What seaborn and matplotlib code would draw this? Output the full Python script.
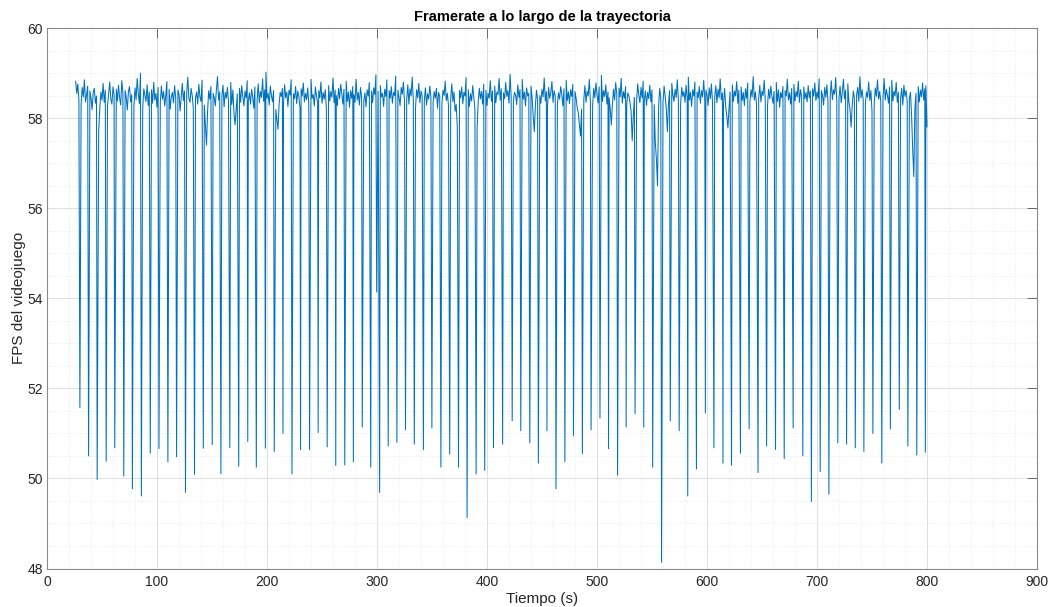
import numpy as np
import pandas as pd
import matplotlib
matplotlib.use("Agg")
import matplotlib.pyplot as plt
import seaborn as sns
from matplotlib.ticker import MultipleLocator, FixedLocator

# Frame rate sampled once per second, starting at t_start seconds
t_start = 26
fps_base = [
    58.82, 58.55, 58.76, 58.41, 58.63, 58.30, 58.68, 58.47, 58.85, 58.36,
    58.52, 58.71, 58.28, 58.60, 58.44, 58.19, 58.57, 58.66, 58.33, 58.49,
    57.95, 57.72, 58.21, 58.58, 58.40, 58.77, 58.35, 58.62, 58.48, 58.26,
    58.54, 58.80, 58.43, 58.31, 58.69, 58.51, 58.22, 58.64, 58.38, 58.73,
    58.45, 58.29, 58.83, 58.56, 58.34, 58.61, 58.47, 58.18, 58.59, 58.70,
    58.36, 58.52, 57.92, 58.25, 58.67, 58.41, 58.88, 58.53, 58.32, 59.00,
    58.44, 58.21, 58.65, 58.50, 58.37, 58.74, 58.28, 58.58, 58.46, 58.63,
    58.33, 58.79, 58.40, 58.55, 58.24, 58.68, 58.49, 58.35, 58.71, 58.42,
    58.59, 58.27, 58.51, 58.81, 58.38, 58.64, 58.20, 58.47, 58.57, 58.34,
    58.72, 58.45, 58.30, 58.62, 58.53, 58.16, 58.48, 58.77, 58.39, 58.60,
    58.26, 58.56, 58.91, 58.43, 58.35, 58.66, 58.50, 58.23, 58.69, 58.44,
    58.58, 58.31, 58.75, 58.47, 58.37, 58.84, 58.52, 58.29, 57.85, 57.40,
    58.15, 58.61, 58.42, 58.70, 58.34, 58.55, 58.46, 58.27, 58.63, 58.92,
    58.40, 58.58, 58.33, 58.49, 58.73, 58.25, 58.57, 58.44, 58.68, 58.36,
    58.52, 58.79, 58.30, 58.62, 58.10, 57.85, 58.20, 58.54, 58.41, 58.66,
    58.35, 58.72, 58.48, 58.27, 58.60, 58.45, 58.83, 58.38, 58.56, 58.31,
    58.64, 58.47, 58.22, 58.69, 58.53, 58.40, 58.76, 58.34, 58.59, 58.46,
    58.87, 58.37, 58.63, 59.02, 58.44, 58.55, 58.29, 58.71, 58.50, 58.36,
    58.61, 58.42, 58.19, 57.98, 57.75, 58.30, 58.57, 58.48, 58.66, 58.33,
    58.74, 58.45, 58.58, 58.26, 58.62, 58.51, 58.85, 58.39, 58.54, 58.43,
    58.70, 58.32, 58.60, 58.47, 58.23, 58.65, 58.49, 58.78, 58.36, 58.55,
    58.41, 58.67, 58.30, 58.59, 58.86, 58.44, 58.52, 58.27, 58.69, 58.48,
    58.35, 58.61, 58.45, 58.80, 58.33, 58.57, 58.42, 58.63, 58.21, 58.53,
    58.72, 58.38, 58.59, 58.46, 58.89, 58.34, 58.62, 58.50, 58.28, 58.66,
    58.43, 58.75, 58.55, 58.31, 58.64, 58.47, 58.82, 58.37, 58.58, 58.24,
    58.61, 58.44, 58.70, 58.52, 58.35, 58.86, 58.40, 58.57, 58.29, 58.68,
    58.46, 58.73, 58.38, 58.56, 58.25, 58.63, 58.49, 58.79, 58.41, 58.60,
    58.34, 58.67, 58.52, 58.96, 58.43, 58.59, 58.31, 58.72, 58.47, 58.55,
    58.26, 58.64, 58.48, 58.85, 58.37, 58.61, 58.44, 58.70, 58.33, 58.57,
    58.50, 58.93, 58.39, 58.62, 58.46, 58.28, 58.68, 58.53, 58.80, 58.36,
    58.58, 58.42, 58.74, 58.31, 58.65, 58.49, 58.91, 58.40, 58.56, 58.23,
    58.63, 58.45, 58.77, 58.34, 58.60, 58.51, 58.84, 58.38, 58.67, 58.29,
    58.54, 58.42, 58.71, 58.47, 58.87, 58.35, 58.59, 58.44, 58.66, 58.22,
    58.57, 58.48, 58.73, 58.33, 58.62, 58.50, 58.82, 58.39, 58.55, 58.27,
    58.64, 58.43, 58.76, 58.36, 58.58, 58.15, 58.30, 57.80, 58.24, 58.61,
    58.45, 58.69, 58.32, 58.57, 58.49, 58.90, 58.41, 58.63, 58.26, 58.54,
    58.38, 58.72, 58.47, 58.20, 58.05, 57.80, 58.35, 58.66, 58.43, 58.59,
    58.31, 58.75, 58.50, 58.62, 58.28, 58.55, 58.44, 58.83, 58.37, 58.60,
    58.46, 58.71, 58.34, 58.58, 58.52, 58.88, 58.40, 58.65, 58.25, 58.56,
    58.43, 58.79, 58.48, 58.61, 58.33, 58.97, 58.45, 58.69, 58.37, 58.57,
    58.52, 58.30, 58.74, 58.46, 58.63, 58.39, 58.86, 58.42, 58.58, 58.27,
    58.67, 58.49, 58.55, 58.34, 58.71, 58.45, 58.05, 57.70, 58.28, 58.62,
    58.41, 58.76, 58.50, 58.33, 58.64, 58.47, 58.89, 58.38, 58.59, 58.26,
    58.68, 58.44, 58.57, 58.81, 58.35, 58.61, 58.49, 58.73, 58.30, 58.56,
    58.42, 58.70, 58.53, 58.27, 58.65, 58.46, 58.84, 58.39, 58.58, 58.32,
    58.63, 58.48, 58.75, 58.36, 58.59, 58.44, 58.23, 58.12, 57.85, 57.60,
    58.20, 58.57, 58.41, 58.72, 58.35, 58.60, 58.49, 58.86, 58.38, 58.55,
    58.27, 58.66, 58.45, 58.78, 58.52, 58.34, 58.69, 58.43, 58.95, 58.37,
    58.61, 58.48, 58.74, 58.31, 58.58, 58.45, 58.22, 57.85, 58.30, 58.64,
    58.40, 58.79, 58.53, 58.36, 58.67, 58.47, 58.88, 58.33, 58.59, 58.44,
    58.70, 58.29, 58.56, 58.49, 58.35, 58.15, 57.50, 58.05, 58.46, 58.63,
    58.38, 58.76, 58.51, 58.34, 58.68, 58.45, 58.82, 58.40, 58.60, 58.28,
    58.57, 58.43, 58.73, 58.36, 58.62, 58.48, 58.30, 57.45, 57.10, 56.50,
    58.25, 58.66, 58.44, 58.58, 58.35, 58.71, 58.47, 58.20, 57.70, 58.33,
    58.61, 58.42, 58.77, 58.50, 58.37, 58.64, 58.46, 58.85, 58.39, 58.56,
    58.30, 58.68, 58.48, 58.59, 58.35, 58.73, 58.44, 58.91, 58.40, 58.57,
    58.26, 58.63, 58.49, 58.80, 58.37, 58.58, 58.45, 58.70, 58.33, 58.61,
    58.47, 58.84, 58.39, 58.62, 58.52, 58.28, 58.67, 58.43, 58.76, 58.36,
    58.59, 58.48, 58.72, 58.34, 58.64, 58.45, 58.87, 58.41, 58.56, 58.30,
    58.66, 58.25, 58.05, 57.78, 58.22, 58.58, 58.43, 58.74, 58.37, 58.60,
    58.49, 58.81, 58.33, 58.62, 58.46, 58.69, 58.39, 58.57, 58.28, 58.65,
    58.44, 58.78, 58.52, 58.35, 58.63, 58.47, 58.92, 58.40, 58.58, 58.31,
    58.67, 58.45, 58.73, 58.36, 58.60, 58.50, 58.84, 58.38, 58.55, 58.27,
    58.64, 58.43, 58.71, 58.48, 58.33, 58.59, 58.46, 58.79, 58.37, 58.62,
    58.24, 58.57, 58.45, 58.70, 58.34, 58.61, 58.49, 58.86, 58.40, 58.56,
    58.31, 58.66, 58.44, 58.75, 58.38, 58.59, 58.47, 58.82, 58.35, 58.63,
    58.48, 58.27, 58.69, 58.43, 58.57, 58.36, 58.72, 58.45, 58.60, 58.32,
    58.65, 58.49, 58.78, 58.39, 58.58, 58.44, 58.87, 58.37, 58.61, 58.50,
    58.29, 58.68, 58.46, 58.74, 58.35, 58.59, 58.48, 58.83, 58.41, 58.63,
    58.53, 58.90, 58.38, 58.66, 58.45, 58.71, 58.34, 58.57, 58.86, 58.43,
    58.62, 58.47, 58.76, 58.36, 58.20, 57.80, 58.25, 58.60, 58.44, 58.89,
    58.51, 58.68, 58.37, 58.92, 58.45, 58.63, 58.40, 58.74, 58.33, 58.58,
    58.46, 58.80, 58.39, 58.61, 58.15, 57.90, 58.32, 58.67, 58.48, 58.85,
    58.42, 58.59, 58.36, 58.72, 58.47, 58.88, 58.40, 58.64, 58.51, 58.33,
    58.69, 58.45, 58.84, 58.38, 58.60, 58.49, 58.79, 58.35, 58.57, 58.86,
    58.43, 58.66, 58.29, 58.73, 58.48, 58.61, 58.37, 58.82, 58.45, 58.57,
    58.05, 57.30, 56.70, 58.22, 58.55, 58.41, 58.70, 58.36, 58.62, 58.47,
    58.78, 58.40, 58.65, 58.72, 57.80,
]

# Short frame-rate drops: time of each drop (s) and its lowest FPS
dip_time = [
    29.9, 37.8, 45.6, 53.8, 61.6, 69.8, 77.6, 85.8, 93.9, 101.8,
    109.9, 117.8, 125.9, 134.1, 142.1, 150.2, 158.1, 166.2, 174.3, 182.5,
    190.3, 198.5, 206.6, 214.5, 222.7, 230.5, 238.7, 246.5, 254.7, 262.5,
    270.7, 278.5, 286.6, 294.3, 299.7, 302.4, 310.2, 318.1, 325.9, 333.9,
    342.2, 349.9, 358.1, 366.1, 374.1, 381.9, 390.1, 397.9, 405.9, 414.2,
    422.9, 430.7, 438.9, 446.7, 454.5, 462.7, 470.8, 478.6, 486.7, 494.6,
    502.7, 510.5, 518.7, 526.5, 534.6, 542.5, 550.6, 558.7, 566.6, 574.7,
    582.5, 590.4, 598.5, 606.3, 614.5, 622.3, 630.4, 638.3, 646.4, 654.2,
    662.3, 670.2, 678.3, 687.1, 694.9, 702.9, 710.8, 718.9, 726.9, 734.8,
    742.6, 750.8, 758.9, 766.7, 774.8, 782.6, 790.7, 798.5,
]
dip_min = [
    51.57, 50.50, 49.98, 50.38, 50.68, 50.05, 49.77, 49.61, 50.56, 50.66,
    50.37, 50.48, 49.69, 50.09, 50.67, 50.75, 50.10, 50.68, 50.27, 50.82,
    50.25, 50.67, 50.60, 51.00, 50.10, 50.64, 50.64, 51.02, 50.70, 50.29,
    50.30, 50.37, 51.14, 50.25, 54.14, 49.69, 50.72, 50.80, 51.08, 50.76,
    50.64, 51.12, 50.25, 50.54, 50.25, 49.13, 50.10, 50.18, 50.68, 50.76,
    51.28, 51.06, 50.79, 50.34, 51.06, 49.77, 50.37, 50.95, 50.55, 51.08,
    51.34, 50.66, 50.07, 51.14, 51.44, 51.14, 50.25, 48.14, 51.28, 51.06,
    49.61, 50.21, 51.45, 50.68, 50.34, 50.29, 50.56, 51.10, 50.13, 50.72,
    50.64, 50.44, 51.12, 50.50, 49.49, 50.15, 49.65, 50.79, 50.76, 50.68,
    50.60, 51.00, 50.34, 51.10, 51.53, 50.72, 50.52, 50.58,
]

title_text = "Framerate a lo largo de la trayectoria"
x_label = "Tiempo (s)"
y_label = "FPS del videojuego"
x_ticks = [0, 100, 200, 300, 400, 500, 600, 700, 800, 900]
y_ticks = [48, 50, 52, 54, 56, 58, 60]

# Each drop sample takes the place of the regular sample nearest to it
base_t = t_start + np.arange(len(fps_base))
base_v = np.asarray(fps_base)
drop_t = np.asarray(dip_time)
keep = np.ones(len(base_t), dtype=bool)
for dt in drop_t:
    keep &= np.abs(base_t - dt) >= 0.5
df = pd.DataFrame({
    "t": np.concatenate([base_t[keep], drop_t]),
    "fps": np.concatenate([base_v[keep], np.asarray(dip_min)]),
}).sort_values("t", kind="stable").reset_index(drop=True)

sns.set_theme(style="white")
plt.rcParams["font.family"] = ["Liberation Sans", "DejaVu Sans"]

ink = "#262626"
fig = plt.figure(figsize=(10.54, 6.07), dpi=100, facecolor="white")
ax = fig.add_axes([47 / 1054, 1 - 568.5 / 607, 990 / 1054, 540.5 / 607])
ax.set_facecolor("white")

sns.lineplot(data=df, x="t", y="fps", ax=ax, estimator=None, sort=False,
             color="#0072BD", linewidth=0.75)

ax.set_xlim(0, 900)
ax.set_ylim(48, 60)
ax.xaxis.set_major_locator(FixedLocator(x_ticks))
ax.yaxis.set_major_locator(FixedLocator(y_ticks))
ax.xaxis.set_minor_locator(MultipleLocator(20))
ax.yaxis.set_minor_locator(MultipleLocator(0.5))

ax.grid(which="major", color="#dedede", linewidth=0.7)
ax.grid(which="minor", color="#e4e4e4", linewidth=0.6, linestyle=(0, (1, 2)))
ax.set_axisbelow(True)

ax.tick_params(which="major", direction="in", length=7, width=0.6, color="#555555",
               top=True, right=True, labelsize=10, labelcolor=ink)
ax.tick_params(axis="x", which="major", pad=5)
ax.tick_params(axis="y", which="major", pad=3)
ax.tick_params(which="minor", length=0)
for s in ax.spines.values():
    s.set_color("#8a8a8a")
    s.set_linewidth(0.8)

ax.set_xlabel(x_label, fontsize=11, color=ink, labelpad=2)
ax.set_ylabel(y_label, fontsize=11, color=ink, labelpad=1)
ax.set_title(title_text, fontsize=10.5, fontweight="bold", color="black", pad=5)

fig.savefig("out.png", dpi=100, facecolor="white")
